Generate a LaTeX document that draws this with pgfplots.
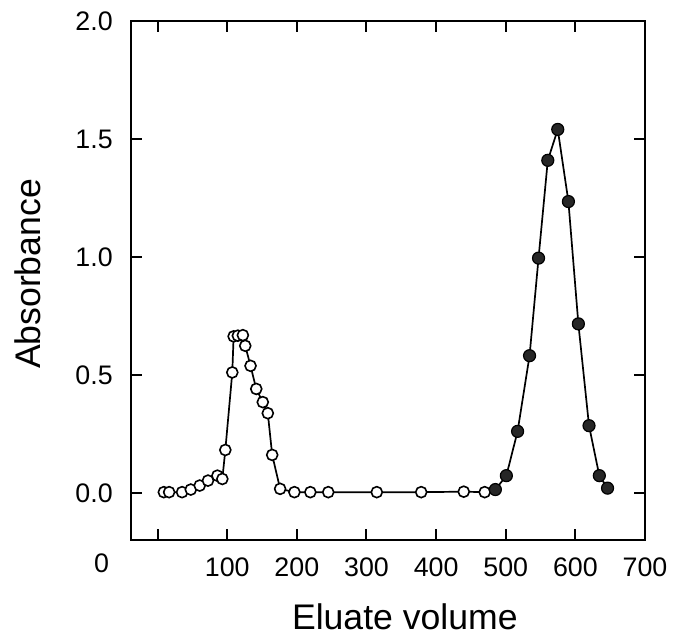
\documentclass[border=0pt]{standalone}
\usepackage{fontspec}
\setmainfont{Liberation Sans}
\usepackage{pgfplots}
\pgfplotsset{compat=1.18}
\begin{document}
\begin{tikzpicture}
\begin{axis}[
  name=ax,
  scale only axis,
  width=257.15pt, height=259.25pt,
  xmin=-38.6, xmax=700,
  ymin=-0.2, ymax=2.0,
  axis line style={line width=1pt},
  every tick/.style={black, line width=1pt},
  major tick length=5.5pt,
  tick align=inside,
  xtick={0,100,200,300,400,500,600,700},
  xticklabels={{},100,200,300,400,500,600,700},
  ytick={0,0.5,1,1.5,2},
  yticklabels={0.0,0.5,1.0,1.5,2.0},
  xticklabel style={font=\fontsize{13.4}{15}\selectfont, inner sep=0pt, anchor=north, yshift=-8.5pt},
  yticklabel style={font=\fontsize{13.4}{15}\selectfont, inner sep=0pt, anchor=east, xshift=-8.8pt},
  xlabel={Eluate volume},
  ylabel={Absorbance},
  xlabel style={font=\fontsize{17.8}{20}\selectfont, at={(rel axis cs:0.533,0)}, anchor=base, yshift=-45pt, inner sep=0pt},
  ylabel style={font=\fontsize{17.8}{20}\selectfont, at={(rel axis cs:0,0.513)}, anchor=center, rotate=0, yshift=51.35pt, inner sep=0pt},
  clip=false,
]
% connecting line through all points
\addplot[black, line width=0.85pt, mark=none] coordinates {
(9,0.003) (16.6,0.003) (35.2,0.003) (47.7,0.014) (60.5,0.031) (72.4,0.052)
(85.9,0.073) (93.0,0.059) (97.3,0.182) (107.3,0.511) (109.2,0.664) (115.3,0.667)
(122.5,0.669) (125.9,0.624) (133.5,0.539) (141.7,0.441) (151.1,0.385) (158.3,0.338)
(164.6,0.161) (176.0,0.017) (196.5,0.003) (219.4,0.003) (245.1,0.003) (314.8,0.003)
(378.6,0.003) (439.7,0.005) (469.8,0.003)
(485.1,0.014) (500.9,0.073) (517.0,0.261) (534.2,0.582) (547.1,0.996) (560.4,1.411)
(574.7,1.542) (590.0,1.236) (604.3,0.717) (619.6,0.285) (634.4,0.073) (646.2,0.020)
};
% open circles
\addplot[only marks, mark=*, mark size=2.75pt, mark options={fill=white, draw=black, line width=0.8pt}] coordinates {
(9,0.003) (16.6,0.003) (35.2,0.003) (47.7,0.014) (60.5,0.031) (72.4,0.052)
(85.9,0.073) (93.0,0.059) (97.3,0.182) (107.3,0.511) (109.2,0.664) (115.3,0.667)
(122.5,0.669) (125.9,0.624) (133.5,0.539) (141.7,0.441) (151.1,0.385) (158.3,0.338)
(164.6,0.161) (176.0,0.017) (196.5,0.003) (219.4,0.003) (245.1,0.003) (314.8,0.003)
(378.6,0.003) (439.7,0.005) (469.8,0.003)
};
% filled circles
\addplot[only marks, mark=*, mark size=3pt, mark options={fill=black!85, draw=black, line width=0.6pt}] coordinates {
(485.1,0.014) (500.9,0.073) (517.0,0.261) (534.2,0.582) (547.1,0.996) (560.4,1.411)
(574.7,1.542) (590.0,1.236) (604.3,0.717) (619.6,0.285) (634.4,0.073) (646.2,0.020)
};
\node[font=\fontsize{13.4}{15}\selectfont, inner sep=0pt, anchor=north, yshift=-6.5pt] at (rel axis cs:-0.0564,0) {0};
\end{axis}
\pgfresetboundingbox
\path ([xshift=-65.35pt,yshift=-47.5pt]ax.south west) rectangle ([xshift=14.5pt,yshift=10.75pt]ax.north east);
\end{tikzpicture}
\end{document}
